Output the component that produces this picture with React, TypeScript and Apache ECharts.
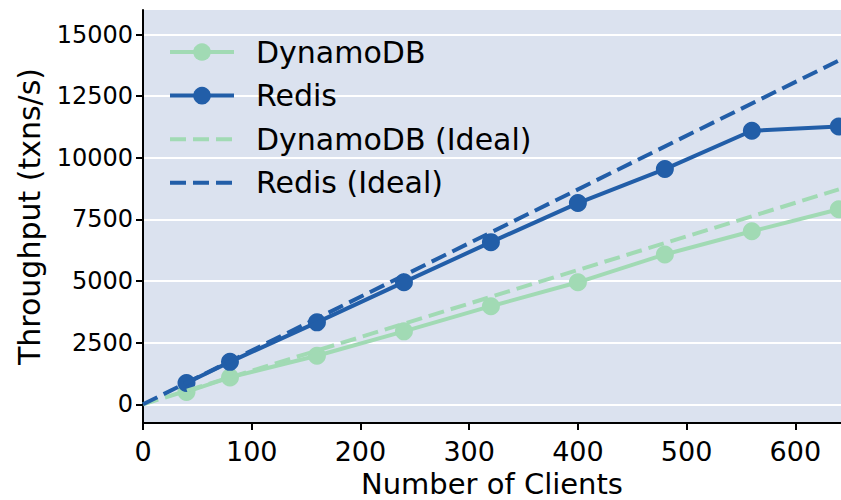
import React, { useEffect, useRef } from "react";
import * as echarts from "echarts";

const clients = [40, 80, 160, 240, 320, 400, 480, 560, 640];
const dynamo = [500, 1090, 1970, 2960, 3980, 4950, 6080, 7020, 7915];
const redis = [865, 1722, 3325, 4955, 6580, 8165, 9545, 11100, 11270];
const idealClients = [0, 640];
const dynamoIdeal = [0, 8720];
const redisIdeal = [0, 13950];
const xTicks = [0, 100, 200, 300, 400, 500, 600];
const yTicks = [0, 2500, 5000, 7500, 10000, 12500, 15000];

const GREEN = "#a1dab4";
const BLUE = "#225ea8";
const FONT = "DejaVu Sans";

const pairs = (xs: number[], ys: number[]) => xs.map((x, i) => [x, ys[i]]);

export default function App() {
  const ref = useRef<HTMLDivElement>(null);
  useEffect(() => {
    if (!ref.current) return;
    const chart = echarts.init(ref.current, null, { renderer: "svg" });
    chart.setOption({
      animation: false,
      backgroundColor: "#ffffff",
      textStyle: { fontFamily: FONT },
      grid: {
        left: 143,
        right: 0,
        top: 10,
        bottom: 77,
        show: true,
        backgroundColor: "#dbe2ef",
        borderWidth: 0,
        containLabel: false,
        outerBoundsMode: "none",
      },
      legend: {
        left: 168,
        top: 37,
        orient: "vertical",
        padding: 0,
        itemWidth: 64,
        itemHeight: 22,
        itemGap: 13.6,
        lineStyle: { width: 4 },
        textStyle: { fontFamily: FONT, fontSize: 30, lineHeight: 30, color: "#000", padding: [0, 0, 0, 17] },
        data: [
          { name: "DynamoDB" },
          { name: "Redis" },
          { name: "DynamoDB (Ideal)", itemStyle: { color: "rgba(0,0,0,0)", borderWidth: 0 } },
          { name: "Redis (Ideal)", itemStyle: { color: "rgba(0,0,0,0)", borderWidth: 0 } },
        ],
      },
      xAxis: {
        type: "value",
        min: 0,
        max: 642,
        name: "Number of Clients",
        nameLocation: "middle",
        nameGap: 42,
        nameTextStyle: { fontFamily: FONT, fontSize: 29, lineHeight: 28, color: "#000" },
        axisLine: { show: true, onZero: false, lineStyle: { color: "#000", width: 2 } },
        axisTick: { show: true, inside: false, length: 7, customValues: xTicks, lineStyle: { color: "#000", width: 2 } },
        axisLabel: { customValues: xTicks, fontFamily: FONT, fontSize: 27, lineHeight: 27, color: "#000", margin: 15 },
        splitLine: { show: false },
      },
      yAxis: {
        type: "value",
        min: -760,
        max: 16000,
        name: "Throughput (txns/s)",
        nameLocation: "middle",
        nameGap: 99,
        nameTextStyle: { fontFamily: FONT, fontSize: 30, lineHeight: 30, color: "#000" },
        axisLine: { show: true, onZero: false, lineStyle: { color: "#000", width: 2 } },
        axisTick: { show: true, inside: false, length: 7, customValues: yTicks, lineStyle: { color: "#000", width: 2 } },
        axisLabel: {
          customValues: yTicks,
          fontFamily: FONT,
          fontSize: 24,
          color: "#000",
          margin: 10,
          formatter: (v: number) => String(v),
        },
        splitLine: { show: true, lineStyle: { color: "#ffffff", width: 2 } },
      },
      series: [
        {
          name: "DynamoDB",
          type: "line",
          data: pairs(clients, dynamo),
          symbol: "circle",
          symbolSize: 18,
          lineStyle: { color: GREEN, width: 4 },
          itemStyle: { color: GREEN },
          z: 2,
        },
        {
          name: "Redis",
          type: "line",
          data: pairs(clients, redis),
          symbol: "circle",
          symbolSize: 18,
          lineStyle: { color: BLUE, width: 4 },
          itemStyle: { color: BLUE },
          z: 3,
        },
        {
          name: "DynamoDB (Ideal)",
          type: "line",
          data: pairs(idealClients, dynamoIdeal),
          symbol: "none",
          lineStyle: { color: GREEN, width: 4, type: [16, 7] },
          itemStyle: { color: GREEN },
          z: 4,
        },
        {
          name: "Redis (Ideal)",
          type: "line",
          data: pairs(idealClients, redisIdeal),
          symbol: "none",
          lineStyle: { color: BLUE, width: 4, type: [16, 7] },
          itemStyle: { color: BLUE },
          z: 5,
        },
      ],
    });
    return () => chart.dispose();
  }, []);
  return (
    <div
      ref={ref}
      style={{ position: "absolute", left: 0, top: 0, width: 841, height: 500 }}
    />
  );
}
